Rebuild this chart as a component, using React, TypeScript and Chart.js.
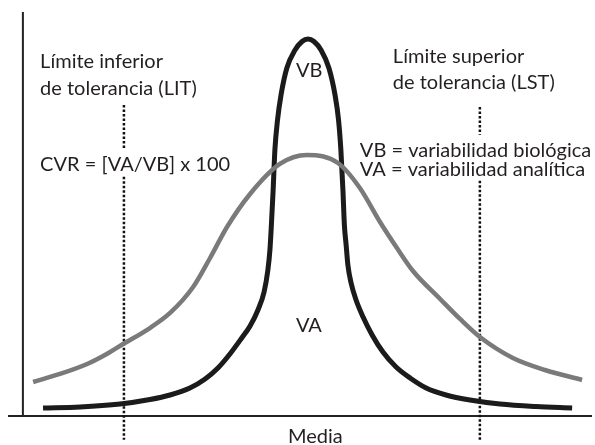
import React, { useEffect, useRef } from 'react';
import { Chart, registerables } from 'chart.js';

Chart.register(...registerables);

// Narrow (black) curve
const narrowX = [-9.05, -7.78, -6.41, -5.39, -4.70, -4.02, -3.50, -3.06, -2.65, -2.27, -1.96, -1.69, -1.48, -1.35, -1.28, -1.23, -1.17, -1.11, -1.02, -0.90, -0.70, -0.42, -0.18, 0.02, 0.23, 0.47, 0.74, 0.95, 1.07, 1.15, 1.22, 1.27, 1.33, 1.39, 1.50, 1.67, 1.91, 2.22, 2.59, 3.04, 3.52, 4.07, 4.75, 5.57, 6.60, 7.83, 9.07];
const narrowY = [1.98, 2.23, 2.97, 4.08, 5.20, 6.93, 9.16, 11.88, 15.35, 19.06, 22.28, 26.24, 30.69, 36.14, 41.09, 47.28, 55.94, 65.84, 73.27, 79.46, 86.14, 90.59, 92.70, 93.32, 92.70, 90.59, 86.14, 79.46, 73.27, 65.84, 55.94, 47.28, 42.33, 37.38, 32.92, 28.71, 24.50, 20.05, 15.84, 12.13, 9.41, 6.93, 5.20, 3.96, 2.97, 2.35, 1.98];

// Wide (gray) curve
const wideX = [-9.39, -8.47, -7.54, -6.93, -6.31, -5.39, -4.70, -3.91, -3.33, -2.75, -1.96, -0.94, -0.01, 1.05, 1.80, 2.49, 3.07, 3.62, 4.55, 5.23, 5.91, 7.04, 8.14, 9.41];
const wideY = [8.42, 10.40, 12.87, 15.10, 17.82, 21.78, 25.50, 31.93, 39.11, 46.78, 54.95, 62.38, 64.60, 62.62, 56.44, 48.02, 41.58, 35.89, 28.96, 24.01, 19.55, 14.36, 11.39, 8.91];

// Tolerance limits (x position and dotted segments, y from/to)
const litX = -6.28;
const lstX = 5.91;
const litSegments = [[77.0, 66.3], [59.2, -5.9]];
const lstSegments = [[76.5, 69.6], [58.2, -5.9]];

// Axis ranges
const X_MIN = -10.25;
const X_MAX = 9.75;
const Y_MIN = 0;
const Y_MAX = 100;
const Y_AXIS_AT = -9.74;

// Texts (anchored in data units, left aligned, alphabetic baseline)
const labelTexts = [
  'Límite inferior',
  'de tolerancia (LIT)',
  'CVR = [VA/VB] x 100',
  'Límite superior',
  'de tolerancia (LST)',
  'VB = variabilidad biológica',
  'VA = variabilidad analítica',
  'VB',
  'VA',
  'Media',
];
const labelX = [-9.15, -9.15, -9.15, 2.93, 2.93, 1.80, 1.80, -0.39, -0.39, -0.66];
const labelY = [86.1, 79.5, 60.6, 87.4, 80.9, 64.1, 59.4, 83.9, 20.8, -6.68];

const zip = (xs: number[], ys: number[]) => xs.map((x, i) => ({ x, y: ys[i] }));

export default function App() {
  const ref = useRef<HTMLCanvasElement | null>(null);

  useEffect(() => {
    if (!ref.current) return;

    const axesPlugin = {
      id: 'axesAndText',
      beforeDatasetsDraw(chart: any) {
        const { ctx, chartArea, scales } = chart;
        const xs = scales.x;
        const ys = scales.y;
        ctx.save();
        ctx.strokeStyle = '#222222';
        ctx.lineWidth = 2;
        ctx.beginPath();
        const y0 = ys.getPixelForValue(Y_MIN);
        ctx.moveTo(chartArea.left, y0);
        ctx.lineTo(chartArea.right, y0);
        const ax = xs.getPixelForValue(Y_AXIS_AT);
        ctx.moveTo(ax, chartArea.top);
        ctx.lineTo(ax, y0);
        ctx.stroke();
        ctx.restore();
      },
      afterDatasetsDraw(chart: any) {
        const { ctx, scales } = chart;
        ctx.save();
        ctx.fillStyle = '#231f20';
        ctx.font = '20px Lato';
        ctx.textAlign = 'left';
        ctx.textBaseline = 'alphabetic';
        labelTexts.forEach((t, i) => {
          ctx.fillText(t, scales.x.getPixelForValue(labelX[i]), scales.y.getPixelForValue(labelY[i]));
        });
        ctx.restore();
      },
    };

    const dotted = (x: number, seg: number[]) => ({
      data: [{ x, y: seg[0] }, { x, y: seg[1] }],
      borderColor: '#111111',
      borderWidth: 2.5,
      borderDash: [2.5, 2],
      pointRadius: 0,
      tension: 0,
      clip: false as any,
    });

    const chart = new Chart(ref.current, {
      type: 'line',
      data: {
        datasets: [
          {
            data: zip(wideX, wideY),
            borderColor: '#7a7a7a',
            borderWidth: 4.5,
            pointRadius: 0,
            cubicInterpolationMode: 'monotone',
          },
          {
            data: zip(narrowX, narrowY),
            borderColor: '#1c1a1a',
            borderWidth: 5,
            pointRadius: 0,
            cubicInterpolationMode: 'monotone',
          },
          ...litSegments.map((s) => dotted(litX, s)),
          ...lstSegments.map((s) => dotted(lstX, s)),
        ] as any,
      },
      options: {
        responsive: false,
        animation: false,
        layout: { padding: { left: 8, right: 3, top: 12, bottom: 29 } },
        plugins: { legend: { display: false }, tooltip: { enabled: false } },
        scales: {
          x: { type: 'linear', min: X_MIN, max: X_MAX, display: false },
          y: { type: 'linear', min: Y_MIN, max: Y_MAX, display: false },
        },
      },
      plugins: [axesPlugin],
    });

    return () => chart.destroy();
  }, []);

  return (
    <div style={{ position: 'fixed', left: 0, top: 0, width: 595, height: 445, background: '#ffffff' }}>
      <canvas ref={ref} width={595} height={445} />
    </div>
  );
}
